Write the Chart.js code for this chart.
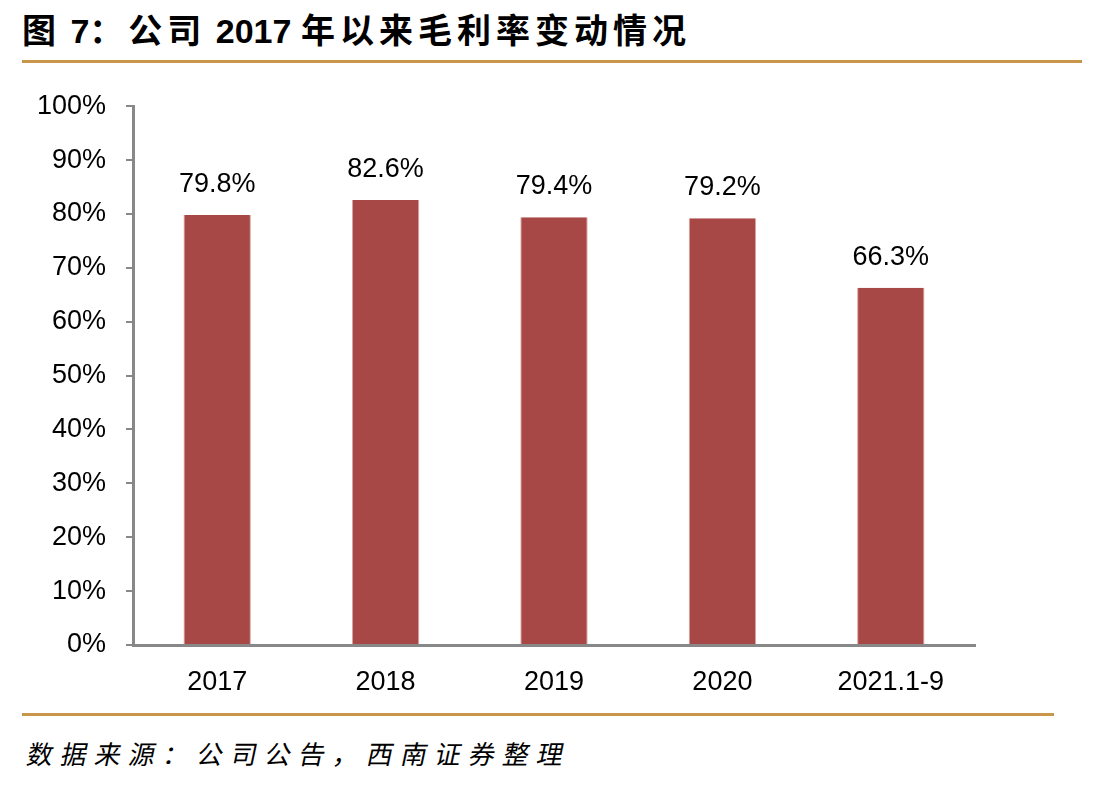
<!DOCTYPE html>
<html>
<head>
<meta charset="utf-8">
<script src="https://cdn.jsdelivr.net/npm/chart.js@4/dist/chart.umd.min.js"></script>
<style>
  body{margin:0;background:#fff;width:1119px;height:787px;overflow:hidden;position:relative;font-family:"Liberation Sans",Arial,sans-serif;}
  .title{position:absolute;left:22px;top:4px;font-family:"Liberation Sans","Noto Sans CJK SC",sans-serif;font-weight:bold;font-size:34px;color:#000;white-space:nowrap;}
  .title .cjk{letter-spacing:5px;}
  .rule{position:absolute;left:22px;height:3px;background:#C9964B;}
  .src{position:absolute;left:24px;top:734px;font-family:"Noto Sans CJK SC",sans-serif;font-size:26px;letter-spacing:8px;color:#000;transform:skewX(-12deg);transform-origin:left bottom;white-space:nowrap;}
  .wrap{position:absolute;left:0;top:70px;width:1000px;height:642px;}
</style>
</head>
<body>
<div class="title"><span class="cjk">图</span> 7<span class="cjk">：公司</span> 2017 <span class="cjk">年以来毛利率变动情况</span></div>
<div class="rule" style="top:60px;width:1060px;"></div>
<div class="wrap"><canvas id="chartMaoli"></canvas></div>
<div class="rule" style="top:713px;width:1032px;"></div>
<div class="src">数据来源：公司公告，西南证券整理</div>
<script>
/* ===============================
  毛利率 数据
================================ */
const tahun = ['2017','2018','2019','2020','2021.1-9'];
const maoli = [79.8, 82.6, 79.4, 79.2, 66.3];
const yTicks = [0,10,20,30,40,50,60,70,80,90,100];

const fontUtama = '"Liberation Sans", Arial, sans-serif';

const labelPlugin = {
    id:'labelAtas',
    afterDatasetsDraw(chart){
        const ctx = chart.ctx;
        const meta = chart.getDatasetMeta(0);
        ctx.save();
        ctx.font = '27px ' + fontUtama;
        ctx.fillStyle = '#000';
        ctx.textAlign = 'center';
        ctx.textBaseline = 'bottom';
        meta.data.forEach((bar,i)=>{
            ctx.fillText(maoli[i].toFixed(1)+'%', bar.x, bar.y - 17);
        });
        ctx.restore();
    }
};

new Chart(document.getElementById('chartMaoli'),{
    type:'bar',
    data:{
        labels:tahun,
        datasets:[{
            data:maoli,
            backgroundColor:'#A84846',
            borderColor:'#D9A3A1',
            borderWidth:{left:1,right:1,top:0,bottom:0},
            barPercentage:0.4,
            categoryPercentage:1
        }]
    },
    options:{
        responsive:true,
        maintainAspectRatio:false,
        animation:false,
        layout:{padding:{top:0,right:25,left:0,bottom:0}},
        plugins:{legend:{display:false},tooltip:{enabled:false}},
        scales:{
            x:{
                grid:{display:false},
                border:{color:'#888',width:3},
                ticks:{color:'#000',padding:13,font:{size:27,family:fontUtama}},
                afterFit(s){ s.height = 67; }
            },
            y:{
                min:0,max:100,
                afterBuildTicks(s){ s.ticks = yTicks.map(v=>({value:v})); },
                grid:{drawOnChartArea:false,drawTicks:true,tickLength:7,color:'#888',lineWidth:2},
                border:{color:'#888',width:3},
                ticks:{color:'#000',padding:20,font:{size:27,family:fontUtama},callback:v=>v+'%'},
                afterFit(s){ s.width = 133; }
            }
        }
    },
    plugins:[labelPlugin]
});
</script>
</body>
</html>
